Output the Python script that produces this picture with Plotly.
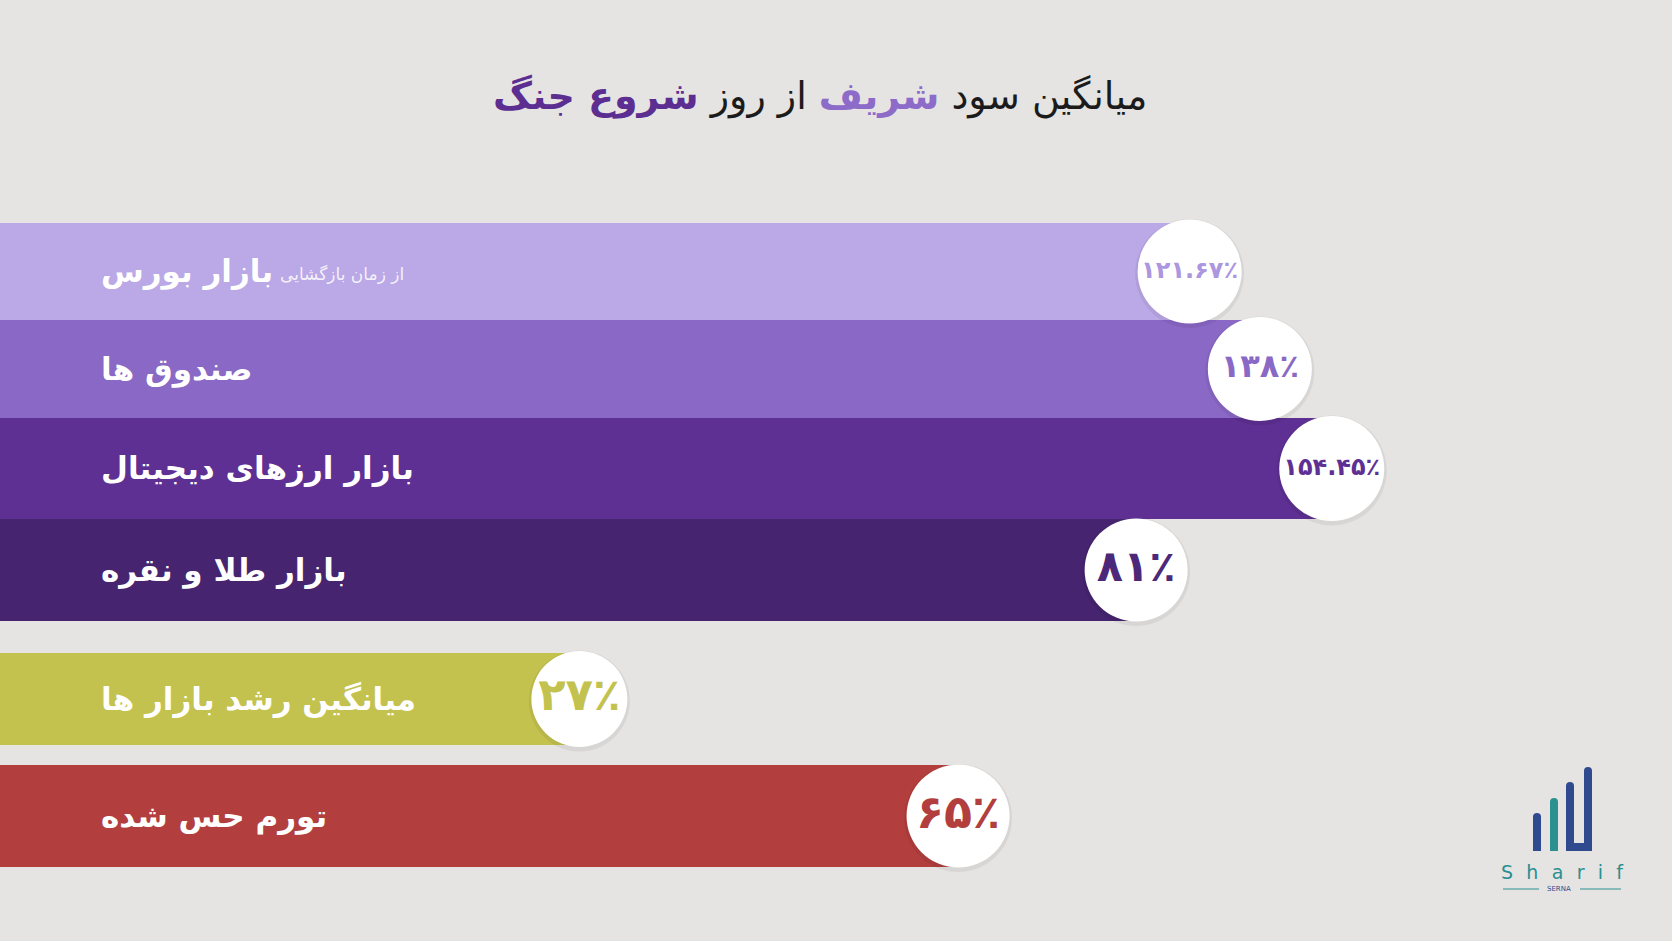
import plotly.graph_objects as go

# ---------------- data ----------------
categories = ["بازار بورس", "صندوق ها", "بازار ارزهای دیجیتال", "بازار طلا و نقره",
              "میانگین رشد بازار ها", "تورم حس شده"]
returns_pct = [121.67, 138, 154.45, 81, 27, 65]
# visual bar length as drawn in the infographic (axis units, 0-200 scale)
bar_extent = [142.3, 150.7, 159.3, 135.9, 69.3, 114.6]
sub_note = "از زمان بازگشایی"
title_parts = ["میانگین سود ", "شریف", " از روز ", "شروع جنگ"]

# ---------------- style ----------------
W, H = 1672, 941
BG = "#e5e4e2"
bar_colors = ["#bba8e6", "#8a68c5", "#5e3093", "#46246f", "#c4c24f", "#b23f3e"]
txt_colors = ["#ab96df", "#8a68c5", "#5e3093", "#4b2879", "#c4c24f", "#b23f3e"]
row_center = [271.5, 369, 468.5, 570, 699, 816]
row_height = [97, 98, 101, 102, 92, 102]
circle_d = [104, 104, 105, 103, 96, 103]
val_font = [24, 32, 24, 43, 45, 46]
FONT = "DejaVu Sans"

FA = str.maketrans("0123456789", "۰۱۲۳۴۵۶۷۸۹")


def fa_pct(v):
    s = f"{v:g}"
    return s.translate(FA) + "٪"


value_labels = [fa_pct(v) for v in returns_pct]

fig = go.Figure()

fig.add_trace(go.Bar(
    orientation="h", x=bar_extent, y=row_center, width=row_height, base=0,
    marker=dict(color=bar_colors, line=dict(width=0)),
    hoverinfo="skip", showlegend=False,
))

# soft shadow of the circles
fig.add_trace(go.Scatter(
    x=bar_extent, y=[c + 2 for c in row_center], mode="markers",
    marker=dict(size=[d + 5 for d in circle_d], color="rgba(0,0,0,0.06)",
                opacity=1, line=dict(width=0)),
    hoverinfo="skip", showlegend=False,
))
fig.add_trace(go.Scatter(
    x=bar_extent, y=row_center, mode="markers+text",
    marker=dict(size=circle_d, color="white", opacity=1, line=dict(width=0)),
    text=value_labels, textposition="middle center",
    textfont=dict(family=FONT, size=val_font, color=txt_colors, weight="bold"),
    hoverinfo="skip", showlegend=False,
))

annotations = []
for cat, yc in zip(categories, row_center):
    annotations.append(dict(
        x=99 / W, xref="paper", y=yc, yref="y", xanchor="left", yanchor="middle",
        text=f"<b>{cat}</b>", showarrow=False,
        font=dict(family=FONT, size=31, color="white"),
    ))
annotations.append(dict(
    x=278 / W, xref="paper", y=row_center[0] + 2, yref="y", xanchor="left", yanchor="middle",
    text=sub_note, showarrow=False,
    font=dict(family=FONT, size=17, color="rgba(255,255,255,0.85)"),
))

title_html = (f"{title_parts[0]}<span style='color:#8d6cc9'><b>{title_parts[1]}</b></span>"
              f"{title_parts[2]}<span style='color:#5c2e91'><b>{title_parts[3]}</b></span>")
annotations.append(dict(
    x=820 / W, xref="paper", y=1 - 97 / H, yref="paper", xanchor="center", yanchor="middle",
    text=title_html, showarrow=False,
    font=dict(family=FONT, size=38, color="#1b1b1b"),
))

# ---------------- logo ----------------
def px(x, y):
    return x / W, 1 - y / H


def rounded_bar(x0, x1, top, bottom, color):
    r = (x1 - x0) / 2
    a = px(x0, bottom); b = px(x0, top + r); c = px(x0, top); d = px(x0 + r, top)
    e = px(x1, top); f = px(x1, top + r); g = px(x1, bottom)
    path = (f"M {a[0]},{a[1]} L {b[0]},{b[1]} Q {c[0]},{c[1]} {d[0]},{d[1]} "
            f"Q {e[0]},{e[1]} {f[0]},{f[1]} L {g[0]},{g[1]} Z")
    return dict(type="path", path=path, xref="paper", yref="paper",
                fillcolor=color, line=dict(width=0), layer="above")


NAVY = "#2f4a8f"
TEAL = "#2a9090"
shapes = [
    rounded_bar(1533, 1541, 813, 851, NAVY),
    rounded_bar(1550, 1558, 798, 851, TEAL),
    rounded_bar(1566, 1574, 782, 851, NAVY),
    rounded_bar(1584, 1592, 767, 851, NAVY),
]
x0, y0 = px(1566, 851); x1, y1 = px(1592, 843)
shapes.append(dict(type="rect", x0=x0, x1=x1, y0=y0, y1=y1, xref="paper", yref="paper",
                   fillcolor=NAVY, line=dict(width=0), layer="above"))
for xa, xb in [(1503, 1539), (1580, 1621)]:
    p0 = px(xa, 889); p1 = px(xb, 889)
    shapes.append(dict(type="line", x0=p0[0], x1=p1[0], y0=p0[1], y1=p1[1],
                       xref="paper", yref="paper", line=dict(color=TEAL, width=1)))

gap = "\u2002\u2009"
lx, ly = px(1562, 872)
annotations.append(dict(x=lx, y=ly, xref="paper", yref="paper", xanchor="center", yanchor="middle",
                        text=gap.join("Sharif"), showarrow=False,
                        font=dict(family="DejaVu Sans", size=19, color=TEAL)))
lx, ly = px(1559, 889)
annotations.append(dict(x=lx, y=ly, xref="paper", yref="paper", xanchor="center", yanchor="middle",
                        text="SERNA", showarrow=False,
                        font=dict(family="DejaVu Sans", size=7, color=NAVY)))

fig.update_layout(
    width=W, height=H, margin=dict(l=0, r=0, t=0, b=0),
    paper_bgcolor=BG, plot_bgcolor=BG,
    xaxis=dict(range=[0, 200], visible=False, fixedrange=True),
    yaxis=dict(range=[H, 0], visible=False, fixedrange=True),
    bargap=0, annotations=annotations, shapes=shapes, showlegend=False,
)

fig.write_html("out.html", config={"displayModeBar": False},
               post_script="document.body.style.margin='0';document.body.style.overflow='hidden';")
